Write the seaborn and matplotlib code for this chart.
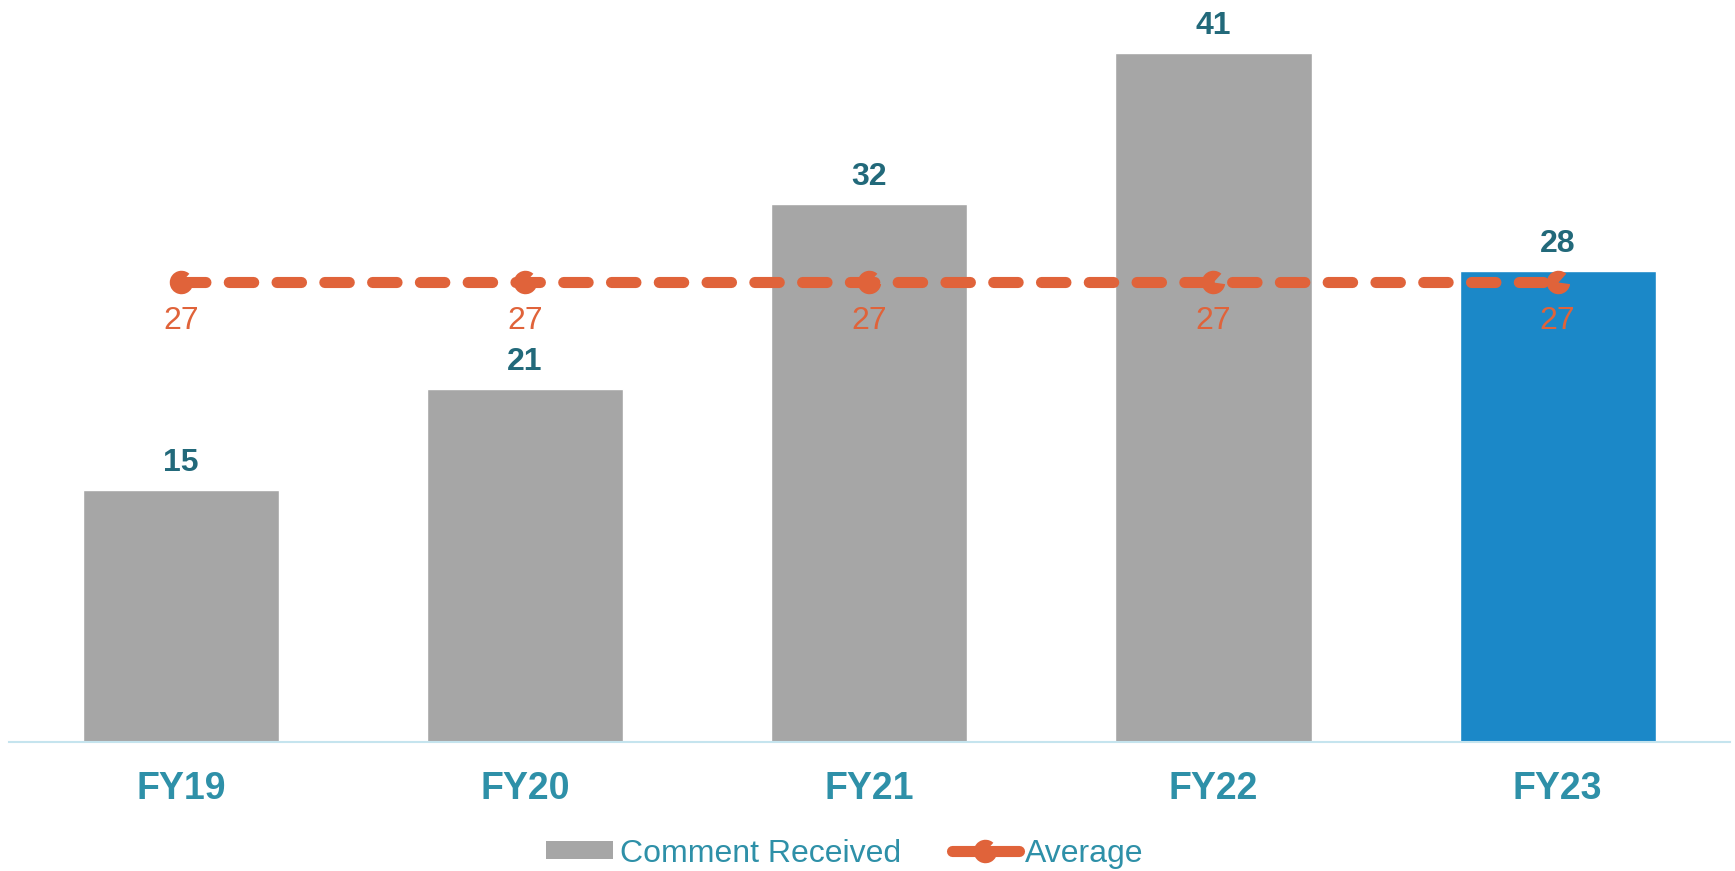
import numpy as np
import matplotlib
matplotlib.use("Agg")
import matplotlib.pyplot as plt
import matplotlib.path as mpath
from matplotlib.patches import Patch
from matplotlib.lines import Line2D
import seaborn as sns

years = ["FY19", "FY20", "FY21", "FY22", "FY23"]
comments = [15, 21, 32, 41, 28]
average = [27.4, 27.4, 27.4, 27.4, 27.4]
avg_labels = ["27", "27", "27", "27", "27"]

bar_colors = ["#A6A6A6", "#A6A6A6", "#A6A6A6", "#A6A6A6", "#1B88C8"]
orange = "#E0633A"
dark_teal = "#22697A"
teal = "#2E90A8"

sns.set_style("white")
plt.rcParams["font.family"] = ["Liberation Sans", "DejaVu Sans"]

fig = plt.figure(figsize=(17.35, 8.71), dpi=100)
ax = fig.add_axes([0.005, 0.148, 0.992, 0.852])

sns.barplot(x=years, y=comments, hue=years, palette=bar_colors, legend=False,
            width=0.57, saturation=1, ax=ax)

# pacman-like marker
pac = mpath.Path.wedge(48, 352)

x = np.arange(len(years))
ax.plot(x, average, color=orange, lw=8, dashes=(2.2, 2.1), dash_capstyle="round",
        marker=pac, markersize=17, markerfacecolor=orange, markeredgewidth=0)

for i, v in enumerate(comments):
    ax.annotate(str(v), (i, v), xytext=(0, 14), textcoords="offset points",
                ha="center", va="baseline", fontsize=23, fontweight="bold", color=dark_teal)
for i, v in enumerate(average):
    ax.annotate(avg_labels[i], (i, v), xytext=(0, -34), textcoords="offset points",
                ha="center", va="baseline", fontsize=23, color=orange)

ax.set_xlim(-0.5, 4.5)
ax.set_ylim(0, 44.15)
ax.set_yticks([])
ax.set_xlabel("")
ax.set_ylabel("")
for s in ["top", "right", "left"]:
    ax.spines[s].set_visible(False)
ax.spines["bottom"].set_color("#C5E4EE")
ax.spines["bottom"].set_linewidth(1.5)
ax.tick_params(axis="x", length=0, pad=21, labelsize=27, labelcolor=teal)
for t in ax.get_xticklabels():
    t.set_fontweight("bold")

handles = [
    Patch(facecolor="#A6A6A6", edgecolor="none", label="Comment Received"),
    Line2D([0], [0], color=orange, lw=8, solid_capstyle="round",
           marker=pac, markersize=17, markerfacecolor=orange, markeredgewidth=0,
           label="Average"),
]
leg = fig.legend(handles=handles, loc="center", bbox_to_anchor=(0.487, 0.02),
                 ncol=2, frameon=False, fontsize=23, handlelength=2.1,
                 handleheight=0.5, handletextpad=0.2, columnspacing=1.6)
for t in leg.get_texts():
    t.set_color(teal)

fig.savefig("out.png", dpi=100)
